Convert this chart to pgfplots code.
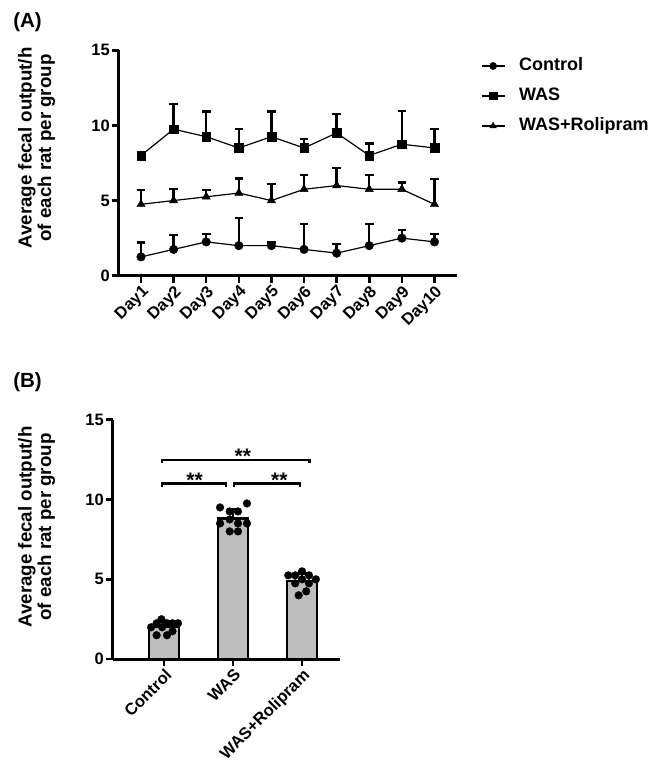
\documentclass[border=0pt]{standalone}
\usepackage{fontspec}
\setmainfont{Liberation Sans}
\usepackage{pgfplots}
\pgfplotsset{compat=1.18}
\definecolor{bargray}{RGB}{190,190,190}
\pgfplotsset{
  prism/.style={
    scale only axis,
    axis x line*=bottom, axis y line*=left,
    axis line style={line width=2.7pt},
    every tick/.style={black, line width=2.5pt},
    major tick length=7pt,
    tick align=outside,
    ymin=0, ymax=15, ytick={0,5,10,15},
    /pgf/number format/assume math mode=true,
    tick label style={font=\fontsize{16.5}{16.5}\selectfont\bfseries},
    yticklabel style={inner sep=1.5pt},
    xticklabel style={rotate=45, anchor=north east, inner sep=1pt},
    clip=false,
  },
  eb/.style={error bars/.cd, y dir=plus, y explicit,
    error bar style={line width=2.4pt, black},
    error mark options={rotate=90, mark size=#1, line width=2.4pt, black}},
}
\begin{document}
\begin{tikzpicture}
\useasboundingbox (0,0) rectangle (665pt,777pt);
% ---------------- Panel A ----------------
\begin{axis}[prism,
  at={(118.5pt,501.3pt)}, anchor=south west,
  width=338.8pt, height=225.4pt,
  xmin=0.31, xmax=10.7,
  xtick={1,2,3,4,5,6,7,8,9,10},
  xticklabels={Day1,Day2,Day3,Day4,Day5,Day6,Day7,Day8,Day9,Day10},
  legend style={at={(1.070,0.9725)}, anchor=north west, draw=none, fill=none,
    inner sep=0pt, outer sep=0pt, row sep=11pt, column sep=13pt,
    font=\fontsize{18}{18}\selectfont\bfseries,
    cells={anchor=west},
    nodes={inner sep=1pt, text height=13pt, text depth=4pt}},
  legend image code/.code={\draw[mark repeat=2, mark phase=2, #1] plot coordinates {(0pt,0pt) (11.5pt,0pt) (23pt,0pt)};},
]
\addplot[black, line width=1.2pt, mark=*, mark size=4.3pt, mark options={solid, line width=0.4pt},
  legend image post style={mark size=3.6pt}, eb=4.3pt]
coordinates {
(1,1.25) +- (0,0.97)
(2,1.75) +- (0,0.96)
(3,2.25) +- (0,0.52)
(4,2.00) +- (0,1.82)
(5,2.00) +- (0,0.20)
(6,1.75) +- (0,1.69)
(7,1.50) +- (0,0.59)
(8,2.00) +- (0,1.44)
(9,2.50) +- (0,0.54)
(10,2.25) +- (0,0.52)
};
\addlegendentry{Control}
\addplot[black, line width=1.2pt, mark=square*, mark size=4.3pt, mark options={solid, line width=0.4pt},
  legend image post style={mark size=3.6pt}, eb=4.3pt]
coordinates {
(1,8.00) +- (0,0.20)
(2,9.75) +- (0,1.67)
(3,9.25) +- (0,1.69)
(4,8.50) +- (0,1.26)
(5,9.25) +- (0,1.69)
(6,8.50) +- (0,0.58)
(7,9.50) +- (0,1.28)
(8,8.00) +- (0,0.81)
(9,8.75) +- (0,2.21)
(10,8.50) +- (0,1.26)
};
\addlegendentry{WAS}
\addplot[black, line width=1.2pt, mark=triangle*, mark size=4.8pt, mark options={solid, line width=0.4pt},
  legend image post style={mark size=3.8pt}, eb=4.3pt]
coordinates {
(1,4.75) +- (0,0.95)
(2,5.00) +- (0,0.77)
(3,5.25) +- (0,0.47)
(4,5.50) +- (0,0.96)
(5,5.00) +- (0,1.12)
(6,5.75) +- (0,0.95)
(7,6.00) +- (0,1.15)
(8,5.75) +- (0,0.95)
(9,5.75) +- (0,0.46)
(10,4.75) +- (0,1.68)
};
\addlegendentry{WAS+Rolipram}
\end{axis}
% ---------------- Panel B ----------------
\begin{axis}[prism,
  at={(112.5pt,117.8pt)}, anchor=south west,
  width=227.5pt, height=239.6pt,
  xmin=-0.75, xmax=2.55,
  xtick={0,1,2},
  xticklabels={Control,WAS,WAS+Rolipram},
]
\addplot[ybar, bar width=30pt, fill=bargray, draw=black, line width=2.4pt, eb=6pt]
coordinates {(0,2.03) +- (0,0.34) (1,8.80) +- (0,0.60) (2,4.90) +- (0,0.47)};
\addplot[only marks, mark=*, mark size=3.9pt, black, mark options={line width=0.3pt}]
coordinates {
(-0.04,2.50) (-0.19,2.00) (-0.11,2.25) (0.04,2.25) (0.12,2.25) (0.20,2.25) (-0.03,2.00) (0.12,1.75) (-0.11,1.50) (0.04,1.50)
(0.81,9.50) (1.20,9.75) (0.95,9.25) (1.07,9.25) (0.81,8.50) (0.95,8.75) (1.07,8.50) (1.20,8.50) (0.95,8.00) (1.07,8.00)
(2.00,5.50) (1.80,5.25) (1.90,5.25) (2.10,5.25) (2.00,5.00) (2.20,5.00) (1.90,4.75) (2.10,4.75) (2.06,4.25) (1.95,4.00)
};
\draw[line width=2.4pt] (axis cs:-0.03,12.28) -- (axis cs:-0.03,12.47) -- (axis cs:2.11,12.47) -- (axis cs:2.11,12.28);
\draw[line width=2.4pt] (axis cs:-0.03,10.81) -- (axis cs:-0.03,11.0) -- (axis cs:0.90,11.0) -- (axis cs:0.90,10.81);
\draw[line width=2.4pt] (axis cs:1.01,10.81) -- (axis cs:1.01,11.0) -- (axis cs:1.97,11.0) -- (axis cs:1.97,10.81);
\node[anchor=base, font=\fontsize{21}{21}\selectfont\bfseries, inner sep=0pt] at (axis cs:1.14,12.25) {**};
\node[anchor=base, font=\fontsize{21}{21}\selectfont\bfseries, inner sep=0pt] at (axis cs:0.44,10.73) {**};
\node[anchor=base, font=\fontsize{21}{21}\selectfont\bfseries, inner sep=0pt] at (axis cs:1.67,10.73) {**};
\end{axis}
% ---------------- Labels ----------------
\node[rotate=90, align=center, font=\fontsize{18.7}{19.5}\selectfont\bfseries] at (36.5pt,629pt) {Average fecal output/h\\of each rat per group};
\node[rotate=90, align=center, font=\fontsize{18.7}{19.5}\selectfont\bfseries] at (36.5pt,250pt) {Average fecal output/h\\of each rat per group};
\node[font=\fontsize{20.5}{20.5}\selectfont\bfseries] at (27.5pt,755pt) {(A)};
\node[font=\fontsize{20.5}{20.5}\selectfont\bfseries] at (27.5pt,395pt) {(B)};
\end{tikzpicture}
\end{document}
